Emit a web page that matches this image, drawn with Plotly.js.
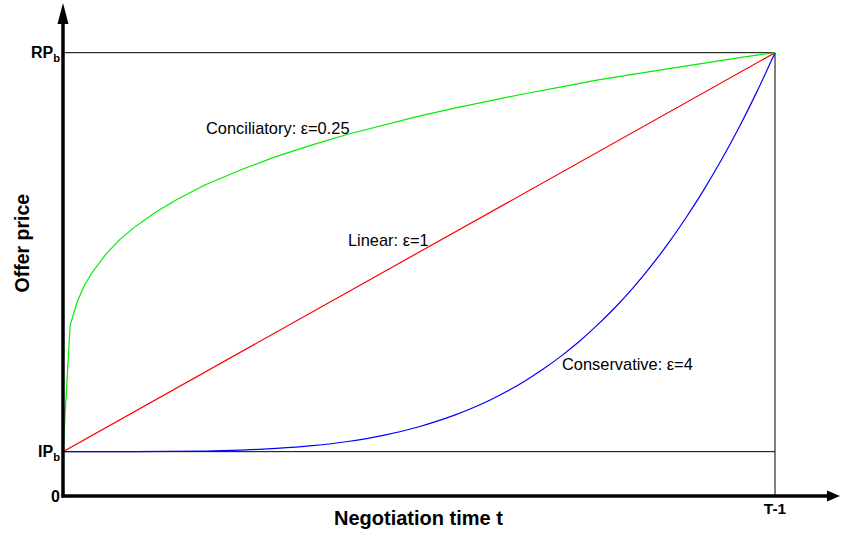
<!DOCTYPE html>
<html>
<head>
<meta charset="utf-8">
<script src="https://cdn.plot.ly/plotly-3.0.1.min.js"></script>
<style>html,body{margin:0;padding:0;background:#fff;}#chart{width:843px;height:533px;}</style>
</head>
<body>
<div id="chart"></div>
<script>
// Price levels and deadline
var IP = 0.1;      // IP_b
var RP = 1.0;      // RP_b
var T = 100;       // T-1

// Conciliatory (ε=0.25)
var tGreen = [0, 1, 2, 3, 4, 6, 8, 10, 13, 16, 20, 25, 30, 35, 40, 45, 50, 55, 60, 65, 70, 75, 80, 85, 90, 95, 100];
var yGreen = [0.1, 0.385, 0.438, 0.475, 0.502, 0.545, 0.579, 0.606, 0.640, 0.669, 0.702, 0.736, 0.766, 0.792, 0.816, 0.837, 0.857, 0.875, 0.892, 0.908, 0.923, 0.938, 0.951, 0.964, 0.977, 0.989, 1.0];

// Linear (ε=1)
var tRed = [0, 100];
var yRed = [0.1, 1.0];

// Conservative (ε=4)
var tBlue = [0, 10, 20, 25, 30, 35, 40, 45, 50, 55, 57.5, 60, 62.5, 65, 67.5, 70, 72.5, 75, 77.5, 80, 82.5, 85, 87.5, 90, 92.5, 95, 97.5, 100];
var yBlue = [0.1, 0.1001, 0.1014, 0.1035, 0.1073, 0.1135, 0.1230, 0.1369, 0.1563, 0.1824, 0.1984, 0.2166, 0.2373, 0.2607, 0.2868, 0.3161, 0.3486, 0.3848, 0.4247, 0.4686, 0.5169, 0.5698, 0.6276, 0.6905, 0.7589, 0.8331, 0.9133, 1.0];

var seriesNames = ["Conciliatory: ε=0.25", "Linear: ε=1", "Conservative: ε=4"];
var seriesColors = ["#00ee00", "#ff0000", "#0000ff"];

var yTickVals = [0, IP, RP];
var yTickText = ["0", "IP<sub>b</sub>", "RP<sub>b</sub>"];
var xTickVals = [T];
var xTickText = ["T-1"];

var FONT = "Liberation Sans, Arial, sans-serif";

var traces = [
  {x: [0, T], y: [IP, IP], mode: "lines", line: {color: "#000", width: 1}, hoverinfo: "skip", showlegend: false},
  {x: [0, T], y: [RP, RP], mode: "lines", line: {color: "#000", width: 1}, hoverinfo: "skip", showlegend: false},
  {x: [T, T], y: [0, RP], mode: "lines", line: {color: "#000", width: 1}, hoverinfo: "skip", showlegend: false},
  {x: tRed, y: yRed, name: seriesNames[1], mode: "lines", line: {color: seriesColors[1], width: 1.2}, showlegend: false},
  {x: tBlue, y: yBlue, name: seriesNames[2], mode: "lines", line: {color: seriesColors[2], width: 1.2, shape: "spline", smoothing: 0.6}, showlegend: false},
  {x: tGreen, y: yGreen, name: seriesNames[0], mode: "lines", line: {color: seriesColors[0], width: 1.2}, showlegend: false}
];

var W = 843, H = 533;
var mL = 63, mR = 8, mT = 5, mB = 37;
var pw = W - mL - mR, ph = H - mT - mB;
var xMax = T * pw / 712;
var yMax = ph / 443.3;

function px2paperX(px) { return (px - mL) / pw; }
function px2paperY(py) { return (H - mB - py) / ph; }

var shapes = [
  // y axis line and arrow
  {type: "line", xref: "paper", yref: "paper", x0: 0, x1: 0, y0: -1.5/ph, y1: px2paperY(18), line: {color: "#000", width: 3.5}, layer: "above"},
  {type: "path", xref: "paper", yref: "paper", layer: "above",
   path: "M " + px2paperX(57.5) + " " + px2paperY(24) + " L " + px2paperX(63) + " " + px2paperY(3) + " L " + px2paperX(68.5) + " " + px2paperY(24) + " Z",
   fillcolor: "#000", line: {width: 0}},
  // x axis line and arrow
  {type: "line", xref: "paper", yref: "paper", x0: -1.5/pw, x1: px2paperX(830), y0: 0, y1: 0, line: {color: "#000", width: 3.5}, layer: "above"},
  {type: "path", xref: "paper", yref: "paper", layer: "above",
   path: "M " + px2paperX(827) + " " + px2paperY(490.5) + " L " + px2paperX(840) + " " + px2paperY(496) + " L " + px2paperX(827) + " " + px2paperY(501.5) + " Z",
   fillcolor: "#000", line: {width: 0}}
];

var labelFont = {family: FONT, size: 16.4, color: "#000"};
var annotations = [
  {x: 19.8, y: 0.830, xref: "x", yref: "y", text: seriesNames[0], showarrow: false, xanchor: "left", yanchor: "middle", font: labelFont},
  {x: 39.8, y: 0.577, xref: "x", yref: "y", text: seriesNames[1], showarrow: false, xanchor: "left", yanchor: "middle", font: labelFont},
  {x: 69.8, y: 0.298, xref: "x", yref: "y", text: seriesNames[2], showarrow: false, xanchor: "left", yanchor: "middle", font: labelFont},
  {x: px2paperX(418.5), y: px2paperY(518), xref: "paper", yref: "paper", text: "<b>Negotiation time t</b>", showarrow: false, xanchor: "center", yanchor: "middle", font: {family: FONT, size: 20, color: "#000"}},
  {x: px2paperX(21), y: px2paperY(243.5), xref: "paper", yref: "paper", text: "<b>Offer price</b>", textangle: -90, showarrow: false, xanchor: "center", yanchor: "middle", font: {family: FONT, size: 19.5, color: "#000"}}
];

var layout = {
  width: W, height: H,
  margin: {l: mL, r: mR, t: mT, b: mB, pad: 0},
  paper_bgcolor: "#fff", plot_bgcolor: "#fff",
  showlegend: false,
  xaxis: {range: [0, xMax], showgrid: false, zeroline: false, showline: false,
          tickvals: xTickVals, ticktext: xTickText, ticks: "", ticklabelstandoff: 1,
          tickfont: {family: FONT, size: 15.5, color: "#000", weight: "bold"}, fixedrange: true},
  yaxis: {range: [0, yMax], showgrid: false, zeroline: false, showline: false,
          tickvals: yTickVals, ticktext: yTickText, ticks: "", ticklabelstandoff: 2,
          tickfont: {family: FONT, size: 16, color: "#000", weight: "bold"}, fixedrange: true},
  shapes: shapes,
  annotations: annotations
};

Plotly.newPlot("chart", traces, layout, {displayModeBar: false, staticPlot: true});
</script>
</body>
</html>
